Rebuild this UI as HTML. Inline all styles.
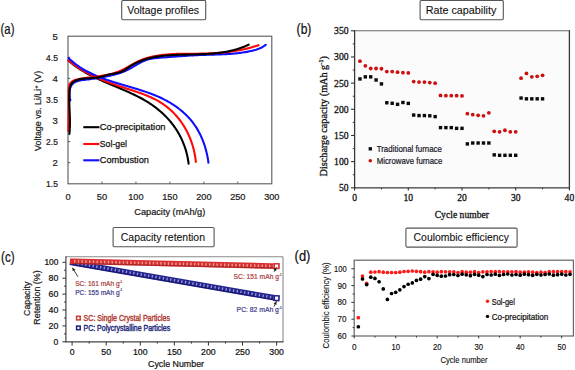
<!DOCTYPE html><html><head><meta charset="utf-8"><style>html,body{margin:0;padding:0;background:#fff;width:575px;height:370px;overflow:hidden}svg{display:block}</style></head><body>
<svg width="575" height="370" viewBox="0 0 575 370">
<rect x="0" y="0" width="575" height="370" fill="#fff"/>
<rect x="121.70" y="0.50" width="84.00" height="19.20" fill="#fff" stroke="#555" stroke-width="1.1" rx="1.2"/>
<text x="127.30" y="13.80" font-family='"Liberation Sans", sans-serif' font-size="10" text-anchor="start" fill="#111" font-weight="normal" textLength="71.70" lengthAdjust="spacingAndGlyphs" stroke="#111" stroke-width="0.1">Voltage profiles</text>
<text x="0.60" y="33.50" font-family='"Liberation Sans", sans-serif' font-size="14.2" text-anchor="start" fill="#111" font-weight="normal" textLength="13.80" lengthAdjust="spacingAndGlyphs" stroke="#111" stroke-width="0.22">(a)</text>
<rect x="68.00" y="36.20" width="203.80" height="147.60" fill="none" stroke="#5a5a5a" stroke-width="1.1"/>
<text x="57.90" y="187.10" font-family='"Liberation Sans", sans-serif' font-size="9.2" text-anchor="end" fill="#1a1a1a" font-weight="normal" textLength="11.80" lengthAdjust="spacingAndGlyphs" stroke="#1a1a1a" stroke-width="0.22">1.5</text>
<line x1="68.00" y1="162.71" x2="70.20" y2="162.71" stroke="#555" stroke-width="1"/>
<text x="57.90" y="166.01" font-family='"Liberation Sans", sans-serif' font-size="9.2" text-anchor="end" fill="#1a1a1a" font-weight="normal" textLength="5.30" lengthAdjust="spacingAndGlyphs" stroke="#1a1a1a" stroke-width="0.22">2</text>
<line x1="68.00" y1="141.63" x2="70.20" y2="141.63" stroke="#555" stroke-width="1"/>
<text x="57.90" y="144.93" font-family='"Liberation Sans", sans-serif' font-size="9.2" text-anchor="end" fill="#1a1a1a" font-weight="normal" textLength="11.80" lengthAdjust="spacingAndGlyphs" stroke="#1a1a1a" stroke-width="0.22">2.5</text>
<line x1="68.00" y1="120.54" x2="70.20" y2="120.54" stroke="#555" stroke-width="1"/>
<text x="57.90" y="123.84" font-family='"Liberation Sans", sans-serif' font-size="9.2" text-anchor="end" fill="#1a1a1a" font-weight="normal" textLength="5.30" lengthAdjust="spacingAndGlyphs" stroke="#1a1a1a" stroke-width="0.22">3</text>
<line x1="68.00" y1="99.46" x2="70.20" y2="99.46" stroke="#555" stroke-width="1"/>
<text x="57.90" y="102.76" font-family='"Liberation Sans", sans-serif' font-size="9.2" text-anchor="end" fill="#1a1a1a" font-weight="normal" textLength="11.80" lengthAdjust="spacingAndGlyphs" stroke="#1a1a1a" stroke-width="0.22">3.5</text>
<line x1="68.00" y1="78.37" x2="70.20" y2="78.37" stroke="#555" stroke-width="1"/>
<text x="57.90" y="81.67" font-family='"Liberation Sans", sans-serif' font-size="9.2" text-anchor="end" fill="#1a1a1a" font-weight="normal" textLength="5.30" lengthAdjust="spacingAndGlyphs" stroke="#1a1a1a" stroke-width="0.22">4</text>
<line x1="68.00" y1="57.29" x2="70.20" y2="57.29" stroke="#555" stroke-width="1"/>
<text x="57.90" y="60.59" font-family='"Liberation Sans", sans-serif' font-size="9.2" text-anchor="end" fill="#1a1a1a" font-weight="normal" textLength="11.80" lengthAdjust="spacingAndGlyphs" stroke="#1a1a1a" stroke-width="0.22">4.5</text>
<text x="57.90" y="39.50" font-family='"Liberation Sans", sans-serif' font-size="9.2" text-anchor="end" fill="#1a1a1a" font-weight="normal" textLength="5.30" lengthAdjust="spacingAndGlyphs" stroke="#1a1a1a" stroke-width="0.22">5</text>
<text x="68.00" y="199.90" font-family='"Liberation Sans", sans-serif' font-size="9.2" text-anchor="middle" fill="#1a1a1a" font-weight="normal" textLength="5.20" lengthAdjust="spacingAndGlyphs" stroke="#1a1a1a" stroke-width="0.22">0</text>
<line x1="101.97" y1="183.80" x2="101.97" y2="181.60" stroke="#555" stroke-width="1"/>
<text x="101.97" y="199.90" font-family='"Liberation Sans", sans-serif' font-size="9.2" text-anchor="middle" fill="#1a1a1a" font-weight="normal" textLength="10.30" lengthAdjust="spacingAndGlyphs" stroke="#1a1a1a" stroke-width="0.22">50</text>
<line x1="135.93" y1="183.80" x2="135.93" y2="181.60" stroke="#555" stroke-width="1"/>
<text x="135.93" y="199.90" font-family='"Liberation Sans", sans-serif' font-size="9.2" text-anchor="middle" fill="#1a1a1a" font-weight="normal" textLength="15.30" lengthAdjust="spacingAndGlyphs" stroke="#1a1a1a" stroke-width="0.22">100</text>
<line x1="169.90" y1="183.80" x2="169.90" y2="181.60" stroke="#555" stroke-width="1"/>
<text x="169.90" y="199.90" font-family='"Liberation Sans", sans-serif' font-size="9.2" text-anchor="middle" fill="#1a1a1a" font-weight="normal" textLength="15.30" lengthAdjust="spacingAndGlyphs" stroke="#1a1a1a" stroke-width="0.22">150</text>
<line x1="203.87" y1="183.80" x2="203.87" y2="181.60" stroke="#555" stroke-width="1"/>
<text x="203.87" y="199.90" font-family='"Liberation Sans", sans-serif' font-size="9.2" text-anchor="middle" fill="#1a1a1a" font-weight="normal" textLength="15.30" lengthAdjust="spacingAndGlyphs" stroke="#1a1a1a" stroke-width="0.22">200</text>
<line x1="237.83" y1="183.80" x2="237.83" y2="181.60" stroke="#555" stroke-width="1"/>
<text x="237.83" y="199.90" font-family='"Liberation Sans", sans-serif' font-size="9.2" text-anchor="middle" fill="#1a1a1a" font-weight="normal" textLength="15.30" lengthAdjust="spacingAndGlyphs" stroke="#1a1a1a" stroke-width="0.22">250</text>
<text x="271.80" y="199.90" font-family='"Liberation Sans", sans-serif' font-size="9.2" text-anchor="middle" fill="#1a1a1a" font-weight="normal" textLength="15.30" lengthAdjust="spacingAndGlyphs" stroke="#1a1a1a" stroke-width="0.22">300</text>
<text x="134.30" y="214.80" font-family='"Liberation Sans", sans-serif' font-size="8.9" text-anchor="start" fill="#1a1a1a" font-weight="normal" textLength="71.00" lengthAdjust="spacingAndGlyphs" stroke="#1a1a1a" stroke-width="0.22">Capacity (mAh/g)</text>
<text transform="translate(40.80,110.90) rotate(-90)" x="0" y="0" font-family='"Liberation Sans", sans-serif' font-size="8.9" text-anchor="middle" fill="#1a1a1a" font-weight="normal" stroke="#1a1a1a" stroke-width="0.22">Voltage vs. Li/Li<tspan font-size="6" dy="-3">+</tspan><tspan dy="3"> (V)</tspan></text>
<path d="M68.53,60.64 L69.31,61.32 L70.10,61.99 L70.89,62.65 L71.69,63.30 L72.50,63.94 L73.32,64.57 L74.14,65.19 L74.97,65.80 L75.80,66.40 L76.65,67.00 L77.50,67.58 L78.35,68.16 L79.21,68.72 L80.08,69.28 L80.95,69.84 L81.83,70.38 L82.72,70.91 L83.61,71.44 L84.50,71.97 L85.40,72.48 L86.31,72.99 L87.22,73.49 L88.13,73.99 L89.05,74.48 L89.97,74.96 L90.90,75.44 L91.83,75.91 L92.76,76.38 L93.70,76.84 L94.64,77.30 L95.59,77.75 L96.53,78.20 L97.48,78.65 L98.44,79.09 L99.39,79.53 L100.35,79.96 L101.31,80.40 L102.27,80.82 L103.24,81.25 L104.20,81.67 L105.17,82.10 L106.14,82.51 L107.11,82.93 L108.09,83.35 L109.06,83.76 L110.03,84.17 L111.01,84.59 L111.98,85.00 L112.96,85.41 L113.93,85.82 L114.91,86.23 L115.88,86.64 L116.86,87.05 L117.84,87.46 L118.81,87.87 L119.78,88.28 L120.76,88.70 L121.73,89.11 L122.70,89.53 L123.67,89.95 L124.63,90.37 L125.60,90.79 L126.56,91.22 L127.53,91.65 L128.49,92.08 L129.44,92.51 L130.40,92.95 L131.35,93.39 L132.30,93.83 L133.25,94.28 L134.19,94.74 L135.13,95.19 L136.07,95.66 L137.00,96.12 L137.93,96.59 L138.85,97.07 L139.77,97.55 L140.69,98.04 L141.60,98.54 L142.51,99.04 L143.41,99.54 L144.31,100.06 L145.20,100.58 L146.09,101.10 L146.97,101.64 L147.85,102.18 L148.72,102.73 L149.59,103.29 L150.45,103.85 L151.30,104.42 L152.15,105.01 L152.99,105.60 L153.82,106.19 L154.65,106.80 L155.47,107.42 L156.28,108.04 L157.09,108.67 L157.89,109.31 L158.68,109.96 L159.47,110.62 L160.24,111.28 L161.01,111.95 L161.77,112.63 L162.53,113.32 L163.28,114.02 L164.01,114.73 L164.74,115.44 L165.47,116.16 L166.18,116.89 L166.88,117.63 L167.58,118.38 L168.27,119.13 L168.95,119.89 L169.62,120.67 L170.28,121.44 L170.93,122.23 L171.57,123.03 L172.20,123.83 L172.83,124.64 L173.44,125.46 L174.04,126.29 L174.64,127.12 L175.22,127.97 L175.80,128.82 L176.36,129.68 L176.91,130.54 L177.46,131.42 L177.99,132.30 L178.51,133.19 L179.02,134.09 L179.52,135.00 L180.01,135.92 L180.48,136.84 L180.95,137.77 L181.41,138.71 L181.85,139.66 L182.28,140.61 L182.70,141.57 L183.11,142.54 L183.50,143.52 L183.89,144.51 L184.26,145.50 L184.62,146.50 L184.97,147.51 L185.30,148.53 L185.62,149.56 L185.93,150.59 L186.23,151.63 L186.51,152.68 L186.78,153.74 L187.03,154.80 L187.28,155.87 L187.51,156.95 L187.72,158.04 L187.93,159.14 L188.11,160.24 L188.29,161.35 L188.45,162.47 L188.59,163.60" fill="none" stroke="#000" stroke-width="2.1" stroke-linecap="round" stroke-linejoin="round"/>
<path d="M68.43,60.27 L69.30,60.99 L70.17,61.69 L71.04,62.38 L71.92,63.06 L72.80,63.73 L73.69,64.38 L74.58,65.03 L75.48,65.67 L76.38,66.29 L77.28,66.91 L78.19,67.51 L79.11,68.11 L80.02,68.69 L80.95,69.27 L81.87,69.83 L82.80,70.39 L83.74,70.94 L84.68,71.48 L85.62,72.01 L86.57,72.53 L87.52,73.04 L88.47,73.55 L89.43,74.05 L90.39,74.54 L91.36,75.02 L92.32,75.49 L93.30,75.96 L94.27,76.42 L95.25,76.88 L96.23,77.33 L97.22,77.77 L98.21,78.20 L99.20,78.63 L100.20,79.05 L101.19,79.47 L102.20,79.88 L103.20,80.29 L104.21,80.69 L105.22,81.09 L106.23,81.48 L107.25,81.87 L108.26,82.26 L109.28,82.63 L110.31,83.01 L111.33,83.38 L112.36,83.75 L113.39,84.12 L114.43,84.48 L115.46,84.84 L116.50,85.19 L117.54,85.54 L118.58,85.90 L119.63,86.24 L120.67,86.59 L121.72,86.93 L122.77,87.28 L123.82,87.62 L124.88,87.96 L125.93,88.30 L126.99,88.64 L128.04,88.98 L129.10,89.32 L130.15,89.66 L131.21,90.01 L132.26,90.35 L133.32,90.70 L134.37,91.05 L135.42,91.40 L136.47,91.76 L137.52,92.12 L138.56,92.48 L139.60,92.85 L140.64,93.22 L141.67,93.60 L142.70,93.98 L143.73,94.37 L144.75,94.77 L145.77,95.17 L146.78,95.58 L147.79,96.00 L148.79,96.43 L149.79,96.86 L150.78,97.30 L151.77,97.76 L152.74,98.22 L153.71,98.69 L154.68,99.17 L155.63,99.66 L156.58,100.17 L157.52,100.68 L158.45,101.21 L159.37,101.75 L160.29,102.30 L161.19,102.86 L162.09,103.44 L162.97,104.03 L163.85,104.63 L164.71,105.25 L165.57,105.88 L166.41,106.52 L167.25,107.18 L168.07,107.85 L168.88,108.53 L169.69,109.22 L170.48,109.93 L171.26,110.64 L172.04,111.37 L172.80,112.11 L173.55,112.86 L174.29,113.63 L175.02,114.40 L175.74,115.19 L176.45,115.98 L177.14,116.79 L177.83,117.61 L178.50,118.44 L179.16,119.27 L179.82,120.12 L180.46,120.98 L181.08,121.85 L181.70,122.73 L182.31,123.62 L182.90,124.51 L183.48,125.42 L184.05,126.34 L184.61,127.26 L185.16,128.19 L185.69,129.14 L186.21,130.09 L186.72,131.05 L187.22,132.01 L187.70,132.99 L188.17,133.97 L188.63,134.97 L189.08,135.97 L189.52,136.97 L189.94,137.99 L190.35,139.01 L190.74,140.04 L191.13,141.07 L191.50,142.12 L191.85,143.17 L192.20,144.22 L192.53,145.28 L192.84,146.35 L193.15,147.43 L193.44,148.51 L193.72,149.59 L193.98,150.69 L194.23,151.78 L194.46,152.89 L194.69,153.99 L194.90,155.11 L195.09,156.23 L195.27,157.35 L195.44,158.48 L195.59,159.61 L195.73,160.75 L195.85,161.89" fill="none" stroke="#ff0a0a" stroke-width="2.1" stroke-linecap="round" stroke-linejoin="round"/>
<path d="M68.61,58.10 L69.49,58.94 L70.37,59.76 L71.27,60.56 L72.17,61.34 L73.08,62.10 L74.00,62.85 L74.93,63.58 L75.86,64.30 L76.81,65.00 L77.76,65.68 L78.72,66.35 L79.68,67.01 L80.66,67.64 L81.64,68.27 L82.63,68.88 L83.62,69.48 L84.63,70.06 L85.63,70.63 L86.65,71.19 L87.67,71.74 L88.70,72.27 L89.73,72.80 L90.77,73.31 L91.81,73.81 L92.86,74.30 L93.92,74.78 L94.98,75.25 L96.04,75.71 L97.11,76.16 L98.18,76.61 L99.26,77.04 L100.34,77.47 L101.43,77.88 L102.52,78.29 L103.61,78.70 L104.71,79.09 L105.81,79.48 L106.91,79.87 L108.02,80.25 L109.13,80.62 L110.24,80.98 L111.35,81.35 L112.47,81.70 L113.59,82.06 L114.71,82.41 L115.83,82.75 L116.95,83.10 L118.08,83.44 L119.20,83.77 L120.33,84.11 L121.46,84.44 L122.59,84.78 L123.72,85.11 L124.85,85.44 L125.98,85.77 L127.11,86.09 L128.24,86.42 L129.37,86.75 L130.50,87.09 L131.63,87.42 L132.76,87.75 L133.88,88.09 L135.01,88.42 L136.14,88.76 L137.26,89.11 L138.38,89.45 L139.50,89.80 L140.62,90.16 L141.74,90.51 L142.85,90.88 L143.96,91.24 L145.07,91.62 L146.18,91.99 L147.28,92.38 L148.38,92.77 L149.48,93.16 L150.57,93.57 L151.66,93.98 L152.74,94.40 L153.83,94.82 L154.90,95.26 L155.98,95.70 L157.05,96.15 L158.11,96.61 L159.17,97.08 L160.22,97.56 L161.27,98.05 L162.32,98.55 L163.35,99.07 L164.39,99.59 L165.41,100.12 L166.43,100.67 L167.45,101.22 L168.45,101.79 L169.45,102.37 L170.44,102.95 L171.43,103.56 L172.40,104.17 L173.37,104.79 L174.33,105.42 L175.28,106.07 L176.22,106.73 L177.15,107.40 L178.08,108.08 L178.99,108.77 L179.89,109.48 L180.79,110.20 L181.67,110.92 L182.54,111.67 L183.40,112.42 L184.25,113.19 L185.09,113.96 L185.91,114.75 L186.72,115.56 L187.52,116.37 L188.31,117.20 L189.09,118.04 L189.85,118.90 L190.60,119.76 L191.33,120.64 L192.05,121.53 L192.76,122.44 L193.45,123.36 L194.12,124.29 L194.78,125.23 L195.43,126.19 L196.06,127.16 L196.68,128.14 L197.28,129.14 L197.87,130.14 L198.44,131.16 L198.99,132.19 L199.54,133.22 L200.06,134.27 L200.58,135.33 L201.07,136.39 L201.56,137.47 L202.02,138.55 L202.48,139.65 L202.91,140.75 L203.34,141.86 L203.75,142.97 L204.14,144.10 L204.52,145.23 L204.88,146.36 L205.23,147.51 L205.57,148.65 L205.89,149.81 L206.20,150.97 L206.49,152.13 L206.76,153.30 L207.03,154.47 L207.27,155.65 L207.51,156.83 L207.72,158.01 L207.93,159.19 L208.12,160.38 L208.29,161.57 L208.45,162.76" fill="none" stroke="#1010ff" stroke-width="2.1" stroke-linecap="round" stroke-linejoin="round"/>
<path d="M70.31,100.31 L70.00,98.71 L69.76,97.13 L69.60,95.57 L69.52,94.04 L69.53,92.55 L69.62,91.12 L69.81,89.75 L70.10,88.45 L70.49,87.23 L70.99,86.11 L71.60,85.09 L72.32,84.18 L73.16,83.39 L74.10,82.70 L75.14,82.12 L76.26,81.61 L77.46,81.19 L78.72,80.83 L80.03,80.53 L81.39,80.27 L82.78,80.05 L84.19,79.86 L85.61,79.68 L87.04,79.51 L88.46,79.34 L89.86,79.16 L91.26,78.98 L92.66,78.79 L94.04,78.59 L95.42,78.39 L96.78,78.18 L98.15,77.96 L99.50,77.73 L100.85,77.50 L102.20,77.26 L103.54,77.01 L104.88,76.75 L106.21,76.48 L107.54,76.20 L108.87,75.91 L110.20,75.62 L111.52,75.31 L112.85,74.99 L114.17,74.65 L115.48,74.31 L116.80,73.94 L118.10,73.55 L119.40,73.15 L120.69,72.72 L121.97,72.26 L123.23,71.78 L124.49,71.26 L125.74,70.72 L126.97,70.16 L128.19,69.56 L129.40,68.93 L130.60,68.28 L131.79,67.61 L132.97,66.92 L134.15,66.22 L135.33,65.52 L136.51,64.82 L137.69,64.14 L138.88,63.46 L140.08,62.81 L141.29,62.19 L142.50,61.59 L143.73,61.03 L144.98,60.51 L146.23,60.03 L147.51,59.61 L148.80,59.24 L150.11,58.93 L151.44,58.67 L152.78,58.45 L154.13,58.27 L155.49,58.11 L156.86,57.98 L158.23,57.87 L159.61,57.76 L160.98,57.66 L162.35,57.56 L163.73,57.45 L165.09,57.35 L166.46,57.24 L167.83,57.14 L169.19,57.03 L170.56,56.92 L171.92,56.82 L173.28,56.71 L174.64,56.61 L176.00,56.51 L177.36,56.41 L178.72,56.30 L180.08,56.21 L181.44,56.11 L182.80,56.01 L184.15,55.92 L185.51,55.83 L186.87,55.74 L188.23,55.65 L189.59,55.57 L190.95,55.48 L192.31,55.41 L193.67,55.33 L195.03,55.26 L196.39,55.19 L197.75,55.13 L199.11,55.07 L200.48,55.01 L201.84,54.96 L203.21,54.91 L204.58,54.87 L205.94,54.83 L207.31,54.79 L208.68,54.75 L210.05,54.71 L211.42,54.67 L212.79,54.63 L214.16,54.59 L215.53,54.55 L216.90,54.51 L218.27,54.46 L219.64,54.41 L221.01,54.36 L222.38,54.30 L223.74,54.24 L225.11,54.17 L226.47,54.09 L227.84,54.01 L229.20,53.92 L230.57,53.83 L231.93,53.72 L233.29,53.61 L234.64,53.48 L236.00,53.35 L237.35,53.21 L238.71,53.05 L240.06,52.88 L241.41,52.70 L242.75,52.51 L244.10,52.31 L245.44,52.09 L246.78,51.85 L248.11,51.60 L249.45,51.33 L250.78,51.05 L252.10,50.75 L253.43,50.43 L254.74,50.09 L256.05,49.72 L257.35,49.31 L258.63,48.85 L259.88,48.34 L261.12,47.78 L262.32,47.14 L263.50,46.43 L264.64,45.64 L265.74,44.76" fill="none" stroke="#1010ff" stroke-width="2.1" stroke-linecap="round" stroke-linejoin="round"/>
<path d="M68.40,131.00 L68.41,129.35 L68.42,127.73 L68.44,126.14 L68.45,124.57 L68.47,123.03 L68.49,121.50 L68.51,119.99 L68.53,118.50 L68.55,117.01 L68.57,115.53 L68.59,114.06 L68.61,112.60 L68.62,111.13 L68.64,109.66 L68.66,108.19 L68.67,106.72 L68.69,105.23 L68.70,103.73 L68.71,102.22 L68.71,100.69 L68.72,99.15 L68.72,97.58 L68.72,95.99 L68.72,94.37 L68.71,92.72 L68.70,91.05 L68.73,89.38 L68.83,87.75 L69.06,86.22 L69.43,84.80 L70.01,83.56 L70.82,82.51 L71.83,81.63 L73.00,80.92 L74.31,80.33 L75.70,79.84 L77.14,79.42 L78.62,79.07 L80.12,78.76 L81.64,78.49 L83.17,78.25 L84.71,78.04 L86.27,77.84 L87.82,77.66 L89.37,77.48 L90.92,77.29 L92.47,77.11 L94.01,76.93 L95.55,76.73 L97.09,76.53 L98.62,76.33 L100.14,76.11 L101.66,75.87 L103.18,75.62 L104.69,75.36 L106.19,75.07 L107.68,74.76 L109.16,74.43 L110.64,74.07 L112.10,73.68 L113.56,73.26 L115.00,72.82 L116.43,72.33 L117.86,71.81 L119.26,71.25 L120.66,70.66 L122.04,70.02 L123.41,69.33 L124.77,68.62 L126.13,67.88 L127.47,67.12 L128.81,66.35 L130.15,65.58 L131.49,64.81 L132.84,64.06 L134.19,63.32 L135.54,62.61 L136.91,61.93 L138.28,61.28 L139.67,60.68 L141.06,60.10 L142.47,59.56 L143.88,59.05 L145.30,58.57 L146.73,58.12 L148.17,57.70 L149.62,57.31 L151.07,56.95 L152.53,56.61 L154.00,56.29 L155.47,56.00 L156.95,55.74 L158.44,55.49 L159.93,55.27 L161.43,55.07 L162.93,54.88 L164.44,54.71 L165.95,54.57 L167.47,54.43 L168.99,54.32 L170.52,54.21 L172.05,54.12 L173.58,54.04 L175.11,53.98 L176.65,53.92 L178.19,53.88 L179.73,53.84 L181.27,53.81 L182.82,53.78 L184.36,53.76 L185.91,53.75 L187.46,53.74 L189.00,53.73 L190.55,53.72 L192.10,53.72 L193.64,53.71 L195.19,53.70 L196.73,53.69 L198.28,53.68 L199.82,53.66 L201.36,53.63 L202.89,53.61 L204.43,53.57 L205.96,53.53 L207.49,53.48 L209.02,53.42 L210.55,53.36 L212.07,53.29 L213.60,53.21 L215.12,53.12 L216.64,53.02 L218.15,52.92 L219.67,52.80 L221.18,52.67 L222.69,52.54 L224.20,52.39 L225.71,52.23 L227.22,52.06 L228.72,51.87 L230.22,51.68 L231.72,51.47 L233.22,51.25 L234.72,51.02 L236.22,50.77 L237.71,50.51 L239.20,50.23 L240.69,49.94 L242.18,49.63 L243.67,49.31 L245.16,48.97 L246.64,48.62 L248.12,48.25 L249.61,47.86 L251.09,47.46 L252.56,47.03 L254.04,46.59 L255.52,46.13 L256.99,45.65 L258.46,45.16" fill="none" stroke="#ff0a0a" stroke-width="2.1" stroke-linecap="round" stroke-linejoin="round"/>
<path d="M69.39,133.99 L69.53,132.49 L69.65,130.99 L69.74,129.49 L69.81,128.01 L69.86,126.53 L69.89,125.05 L69.91,123.58 L69.91,122.11 L69.90,120.64 L69.87,119.18 L69.84,117.72 L69.80,116.26 L69.75,114.80 L69.69,113.33 L69.64,111.87 L69.58,110.40 L69.52,108.93 L69.47,107.46 L69.42,105.98 L69.37,104.49 L69.34,103.00 L69.31,101.51 L69.29,100.00 L69.29,98.49 L69.29,96.97 L69.32,95.43 L69.36,93.89 L69.42,92.34 L69.51,90.78 L69.65,89.24 L69.88,87.75 L70.22,86.35 L70.70,85.06 L71.35,83.92 L72.18,82.93 L73.15,82.07 L74.24,81.34 L75.44,80.71 L76.71,80.19 L78.04,79.75 L79.43,79.38 L80.85,79.08 L82.32,78.84 L83.81,78.64 L85.34,78.48 L86.88,78.35 L88.43,78.23 L90.00,78.13 L91.56,78.02 L93.12,77.90 L94.66,77.76 L96.19,77.60 L97.70,77.39 L99.17,77.13 L100.62,76.83 L102.04,76.48 L103.44,76.11 L104.83,75.72 L106.21,75.33 L107.60,74.94 L109.00,74.57 L110.41,74.23 L111.85,73.94 L113.31,73.67 L114.77,73.41 L116.24,73.13 L117.70,72.82 L119.13,72.45 L120.55,72.00 L121.92,71.45 L123.25,70.80 L124.56,70.05 L125.83,69.24 L127.09,68.39 L128.35,67.53 L129.60,66.68 L130.87,65.86 L132.15,65.08 L133.44,64.34 L134.74,63.64 L136.06,62.97 L137.38,62.34 L138.72,61.75 L140.06,61.18 L141.42,60.65 L142.78,60.15 L144.15,59.68 L145.54,59.24 L146.93,58.82 L148.33,58.44 L149.73,58.07 L151.15,57.74 L152.57,57.43 L154.00,57.14 L155.43,56.87 L156.87,56.63 L158.32,56.40 L159.77,56.20 L161.23,56.01 L162.69,55.84 L164.15,55.68 L165.62,55.54 L167.09,55.42 L168.57,55.30 L170.05,55.20 L171.53,55.11 L173.01,55.03 L174.50,54.96 L175.99,54.90 L177.48,54.84 L178.97,54.79 L180.46,54.75 L181.95,54.71 L183.44,54.67 L184.93,54.63 L186.42,54.60 L187.91,54.57 L189.40,54.54 L190.89,54.51 L192.38,54.48 L193.87,54.44 L195.36,54.41 L196.84,54.37 L198.33,54.32 L199.82,54.28 L201.30,54.22 L202.78,54.16 L204.26,54.10 L205.74,54.02 L207.22,53.94 L208.70,53.85 L210.17,53.75 L211.64,53.64 L213.11,53.52 L214.58,53.38 L216.05,53.23 L217.51,53.07 L218.97,52.90 L220.42,52.71 L221.88,52.50 L223.33,52.28 L224.78,52.04 L226.22,51.78 L227.66,51.50 L229.10,51.20 L230.53,50.89 L231.96,50.55 L233.38,50.19 L234.80,49.81 L236.22,49.40 L237.63,48.97 L239.04,48.52 L240.44,48.04 L241.84,47.53 L243.23,47.00 L244.62,46.44 L246.00,45.85 L247.38,45.23 L248.75,44.58" fill="none" stroke="#000" stroke-width="2.1" stroke-linecap="round" stroke-linejoin="round"/>
<line x1="83.30" y1="127.20" x2="99.40" y2="127.20" stroke="#000" stroke-width="2.1"/>
<text x="99.80" y="130.30" font-family='"Liberation Sans", sans-serif' font-size="9.9" text-anchor="start" fill="#111" font-weight="normal" textLength="65.80" lengthAdjust="spacingAndGlyphs" stroke="#111" stroke-width="0.25">Co-precipitation</text>
<line x1="83.30" y1="144.00" x2="99.40" y2="144.00" stroke="#ff0a0a" stroke-width="2.1"/>
<text x="99.80" y="147.10" font-family='"Liberation Sans", sans-serif' font-size="9.9" text-anchor="start" fill="#111" font-weight="normal" textLength="27.20" lengthAdjust="spacingAndGlyphs" stroke="#111" stroke-width="0.25">Sol-gel</text>
<line x1="83.30" y1="160.30" x2="99.40" y2="160.30" stroke="#1010ff" stroke-width="2.1"/>
<text x="99.80" y="163.40" font-family='"Liberation Sans", sans-serif' font-size="9.9" text-anchor="start" fill="#111" font-weight="normal" textLength="49.10" lengthAdjust="spacingAndGlyphs" stroke="#111" stroke-width="0.25">Combustion</text>
<rect x="420.10" y="0.50" width="83.20" height="19.20" fill="#fff" stroke="#555" stroke-width="1.1" rx="1.2"/>
<text x="425.70" y="13.80" font-family='"Liberation Sans", sans-serif' font-size="10" text-anchor="start" fill="#111" font-weight="normal" textLength="70.70" lengthAdjust="spacingAndGlyphs" stroke="#111" stroke-width="0.1">Rate capability</text>
<text x="296.60" y="33.70" font-family='"Liberation Sans", sans-serif' font-size="14.2" text-anchor="start" fill="#111" font-weight="normal" textLength="14.80" lengthAdjust="spacingAndGlyphs" stroke="#111" stroke-width="0.22">(b)</text>
<rect x="354.60" y="30.80" width="214.80" height="157.00" fill="#fbfbfb" stroke="none"/>
<line x1="354.10" y1="30.80" x2="570.00" y2="30.80" stroke="#6a6a6a" stroke-width="1.1"/>
<line x1="569.40" y1="30.30" x2="569.40" y2="188.40" stroke="#3a3a3a" stroke-width="1.3"/>
<line x1="354.60" y1="30.30" x2="354.60" y2="188.40" stroke="#3a3a3a" stroke-width="1.3"/>
<line x1="354.00" y1="187.80" x2="570.00" y2="187.80" stroke="#3a3a3a" stroke-width="1.3"/>
<line x1="351.00" y1="187.80" x2="354.60" y2="187.80" stroke="#333" stroke-width="1.1"/>
<line x1="352.80" y1="174.72" x2="354.60" y2="174.72" stroke="#333" stroke-width="1.0"/>
<text x="348.60" y="191.20" font-family='"Liberation Serif", serif' font-size="10.4" text-anchor="end" fill="#111" font-weight="normal" textLength="9.60" lengthAdjust="spacingAndGlyphs" stroke="#111" stroke-width="0.3">50</text>
<line x1="351.00" y1="161.63" x2="354.60" y2="161.63" stroke="#333" stroke-width="1.1"/>
<line x1="352.80" y1="148.55" x2="354.60" y2="148.55" stroke="#333" stroke-width="1.0"/>
<text x="348.60" y="165.03" font-family='"Liberation Serif", serif' font-size="10.4" text-anchor="end" fill="#111" font-weight="normal" textLength="14.50" lengthAdjust="spacingAndGlyphs" stroke="#111" stroke-width="0.3">100</text>
<line x1="351.00" y1="135.47" x2="354.60" y2="135.47" stroke="#333" stroke-width="1.1"/>
<line x1="352.80" y1="122.38" x2="354.60" y2="122.38" stroke="#333" stroke-width="1.0"/>
<text x="348.60" y="138.87" font-family='"Liberation Serif", serif' font-size="10.4" text-anchor="end" fill="#111" font-weight="normal" textLength="14.50" lengthAdjust="spacingAndGlyphs" stroke="#111" stroke-width="0.3">150</text>
<line x1="351.00" y1="109.30" x2="354.60" y2="109.30" stroke="#333" stroke-width="1.1"/>
<line x1="352.80" y1="96.22" x2="354.60" y2="96.22" stroke="#333" stroke-width="1.0"/>
<text x="348.60" y="112.70" font-family='"Liberation Serif", serif' font-size="10.4" text-anchor="end" fill="#111" font-weight="normal" textLength="14.50" lengthAdjust="spacingAndGlyphs" stroke="#111" stroke-width="0.3">200</text>
<line x1="351.00" y1="83.13" x2="354.60" y2="83.13" stroke="#333" stroke-width="1.1"/>
<line x1="352.80" y1="70.05" x2="354.60" y2="70.05" stroke="#333" stroke-width="1.0"/>
<text x="348.60" y="86.53" font-family='"Liberation Serif", serif' font-size="10.4" text-anchor="end" fill="#111" font-weight="normal" textLength="14.50" lengthAdjust="spacingAndGlyphs" stroke="#111" stroke-width="0.3">250</text>
<line x1="351.00" y1="56.97" x2="354.60" y2="56.97" stroke="#333" stroke-width="1.1"/>
<line x1="352.80" y1="43.88" x2="354.60" y2="43.88" stroke="#333" stroke-width="1.0"/>
<text x="348.60" y="60.37" font-family='"Liberation Serif", serif' font-size="10.4" text-anchor="end" fill="#111" font-weight="normal" textLength="14.50" lengthAdjust="spacingAndGlyphs" stroke="#111" stroke-width="0.3">300</text>
<line x1="351.00" y1="30.80" x2="354.60" y2="30.80" stroke="#333" stroke-width="1.1"/>
<text x="348.60" y="34.20" font-family='"Liberation Serif", serif' font-size="10.4" text-anchor="end" fill="#111" font-weight="normal" textLength="14.50" lengthAdjust="spacingAndGlyphs" stroke="#111" stroke-width="0.3">350</text>
<line x1="354.60" y1="187.80" x2="354.60" y2="190.60" stroke="#333" stroke-width="1.1"/>
<line x1="381.45" y1="187.80" x2="381.45" y2="189.40" stroke="#333" stroke-width="1.0"/>
<text x="354.60" y="201.00" font-family='"Liberation Serif", serif' font-size="10.4" text-anchor="middle" fill="#111" font-weight="normal" textLength="4.80" lengthAdjust="spacingAndGlyphs" stroke="#111" stroke-width="0.3">0</text>
<line x1="408.30" y1="187.80" x2="408.30" y2="190.60" stroke="#333" stroke-width="1.1"/>
<line x1="435.15" y1="187.80" x2="435.15" y2="189.40" stroke="#333" stroke-width="1.0"/>
<text x="408.30" y="201.00" font-family='"Liberation Serif", serif' font-size="10.4" text-anchor="middle" fill="#111" font-weight="normal" textLength="9.60" lengthAdjust="spacingAndGlyphs" stroke="#111" stroke-width="0.3">10</text>
<line x1="462.00" y1="187.80" x2="462.00" y2="190.60" stroke="#333" stroke-width="1.1"/>
<line x1="488.85" y1="187.80" x2="488.85" y2="189.40" stroke="#333" stroke-width="1.0"/>
<text x="462.00" y="201.00" font-family='"Liberation Serif", serif' font-size="10.4" text-anchor="middle" fill="#111" font-weight="normal" textLength="9.60" lengthAdjust="spacingAndGlyphs" stroke="#111" stroke-width="0.3">20</text>
<line x1="515.70" y1="187.80" x2="515.70" y2="190.60" stroke="#333" stroke-width="1.1"/>
<line x1="542.55" y1="187.80" x2="542.55" y2="189.40" stroke="#333" stroke-width="1.0"/>
<text x="515.70" y="201.00" font-family='"Liberation Serif", serif' font-size="10.4" text-anchor="middle" fill="#111" font-weight="normal" textLength="9.60" lengthAdjust="spacingAndGlyphs" stroke="#111" stroke-width="0.3">30</text>
<line x1="569.40" y1="187.80" x2="569.40" y2="190.60" stroke="#333" stroke-width="1.1"/>
<text x="569.40" y="201.00" font-family='"Liberation Serif", serif' font-size="10.4" text-anchor="middle" fill="#111" font-weight="normal" textLength="9.60" lengthAdjust="spacingAndGlyphs" stroke="#111" stroke-width="0.3">40</text>
<text x="434.70" y="217.80" font-family='"Liberation Serif", serif' font-size="10.4" text-anchor="start" fill="#111" font-weight="normal" textLength="54.30" lengthAdjust="spacingAndGlyphs" stroke="#111" stroke-width="0.3">Cycle number</text>
<text transform="translate(327.40,116.20) rotate(-90)" x="0" y="0" font-family='"Liberation Serif", serif' font-size="10.2" text-anchor="middle" fill="#111" font-weight="normal" stroke="#111" stroke-width="0.3">Discharge capacity (mAh g<tspan font-size="6.5" dy="-4">-1</tspan><tspan dy="4">)</tspan></text>
<rect x="358.27" y="77.25" width="3.4" height="3.4" fill="#0a0a0a"/>
<rect x="363.64" y="75.15" width="3.4" height="3.4" fill="#0a0a0a"/>
<rect x="369.01" y="75.15" width="3.4" height="3.4" fill="#0a0a0a"/>
<rect x="374.38" y="78.29" width="3.4" height="3.4" fill="#0a0a0a"/>
<rect x="379.75" y="82.22" width="3.4" height="3.4" fill="#0a0a0a"/>
<rect x="385.12" y="101.06" width="3.4" height="3.4" fill="#0a0a0a"/>
<rect x="390.49" y="101.58" width="3.4" height="3.4" fill="#0a0a0a"/>
<rect x="395.86" y="102.63" width="3.4" height="3.4" fill="#0a0a0a"/>
<rect x="401.23" y="100.80" width="3.4" height="3.4" fill="#0a0a0a"/>
<rect x="406.60" y="101.69" width="3.4" height="3.4" fill="#0a0a0a"/>
<rect x="411.97" y="113.36" width="3.4" height="3.4" fill="#0a0a0a"/>
<rect x="417.34" y="113.88" width="3.4" height="3.4" fill="#0a0a0a"/>
<rect x="422.71" y="113.88" width="3.4" height="3.4" fill="#0a0a0a"/>
<rect x="428.08" y="114.09" width="3.4" height="3.4" fill="#0a0a0a"/>
<rect x="433.45" y="114.93" width="3.4" height="3.4" fill="#0a0a0a"/>
<rect x="438.82" y="125.92" width="3.4" height="3.4" fill="#0a0a0a"/>
<rect x="444.19" y="125.92" width="3.4" height="3.4" fill="#0a0a0a"/>
<rect x="449.56" y="125.92" width="3.4" height="3.4" fill="#0a0a0a"/>
<rect x="454.93" y="126.65" width="3.4" height="3.4" fill="#0a0a0a"/>
<rect x="460.30" y="126.65" width="3.4" height="3.4" fill="#0a0a0a"/>
<rect x="465.67" y="142.19" width="3.4" height="3.4" fill="#0a0a0a"/>
<rect x="471.04" y="141.30" width="3.4" height="3.4" fill="#0a0a0a"/>
<rect x="476.41" y="141.30" width="3.4" height="3.4" fill="#0a0a0a"/>
<rect x="481.78" y="141.30" width="3.4" height="3.4" fill="#0a0a0a"/>
<rect x="487.15" y="141.30" width="3.4" height="3.4" fill="#0a0a0a"/>
<rect x="492.52" y="153.18" width="3.4" height="3.4" fill="#0a0a0a"/>
<rect x="497.89" y="153.60" width="3.4" height="3.4" fill="#0a0a0a"/>
<rect x="503.26" y="153.60" width="3.4" height="3.4" fill="#0a0a0a"/>
<rect x="508.63" y="153.60" width="3.4" height="3.4" fill="#0a0a0a"/>
<rect x="514.00" y="153.60" width="3.4" height="3.4" fill="#0a0a0a"/>
<rect x="519.37" y="96.35" width="3.4" height="3.4" fill="#0a0a0a"/>
<rect x="524.74" y="97.13" width="3.4" height="3.4" fill="#0a0a0a"/>
<rect x="530.11" y="97.13" width="3.4" height="3.4" fill="#0a0a0a"/>
<rect x="535.48" y="97.13" width="3.4" height="3.4" fill="#0a0a0a"/>
<rect x="540.85" y="97.13" width="3.4" height="3.4" fill="#0a0a0a"/>
<circle cx="359.97" cy="61.15" r="1.9" fill="#cc1010"/>
<circle cx="365.34" cy="65.86" r="1.9" fill="#cc1010"/>
<circle cx="370.71" cy="68.48" r="1.9" fill="#cc1010"/>
<circle cx="376.08" cy="68.48" r="1.9" fill="#cc1010"/>
<circle cx="381.45" cy="68.74" r="1.9" fill="#cc1010"/>
<circle cx="386.82" cy="71.62" r="1.9" fill="#cc1010"/>
<circle cx="392.19" cy="71.62" r="1.9" fill="#cc1010"/>
<circle cx="397.56" cy="72.14" r="1.9" fill="#cc1010"/>
<circle cx="402.93" cy="72.67" r="1.9" fill="#cc1010"/>
<circle cx="408.30" cy="72.93" r="1.9" fill="#cc1010"/>
<circle cx="413.67" cy="81.56" r="1.9" fill="#cc1010"/>
<circle cx="419.04" cy="82.09" r="1.9" fill="#cc1010"/>
<circle cx="424.41" cy="82.09" r="1.9" fill="#cc1010"/>
<circle cx="429.78" cy="82.61" r="1.9" fill="#cc1010"/>
<circle cx="435.15" cy="83.13" r="1.9" fill="#cc1010"/>
<circle cx="440.52" cy="95.43" r="1.9" fill="#cc1010"/>
<circle cx="445.89" cy="95.69" r="1.9" fill="#cc1010"/>
<circle cx="451.26" cy="95.69" r="1.9" fill="#cc1010"/>
<circle cx="456.63" cy="95.69" r="1.9" fill="#cc1010"/>
<circle cx="462.00" cy="95.96" r="1.9" fill="#cc1010"/>
<circle cx="467.37" cy="113.70" r="1.9" fill="#cc1010"/>
<circle cx="472.74" cy="114.69" r="1.9" fill="#cc1010"/>
<circle cx="478.11" cy="115.37" r="1.9" fill="#cc1010"/>
<circle cx="483.48" cy="115.79" r="1.9" fill="#cc1010"/>
<circle cx="488.85" cy="112.81" r="1.9" fill="#cc1010"/>
<circle cx="494.22" cy="131.28" r="1.9" fill="#cc1010"/>
<circle cx="499.59" cy="131.80" r="1.9" fill="#cc1010"/>
<circle cx="504.96" cy="130.23" r="1.9" fill="#cc1010"/>
<circle cx="510.33" cy="131.80" r="1.9" fill="#cc1010"/>
<circle cx="515.70" cy="131.80" r="1.9" fill="#cc1010"/>
<circle cx="521.07" cy="78.16" r="1.9" fill="#cc1010"/>
<circle cx="526.44" cy="73.45" r="1.9" fill="#cc1010"/>
<circle cx="531.81" cy="76.85" r="1.9" fill="#cc1010"/>
<circle cx="537.18" cy="76.33" r="1.9" fill="#cc1010"/>
<circle cx="542.55" cy="75.28" r="1.9" fill="#cc1010"/>
<rect x="368.6" y="147.1" width="3.4" height="3.4" fill="#111"/>
<circle cx="370.3" cy="160.7" r="1.8" fill="#c81010"/>
<text x="376.70" y="151.90" font-family='"Liberation Sans", sans-serif' font-size="8.9" text-anchor="start" fill="#1a1a2a" font-weight="normal" textLength="65.30" lengthAdjust="spacingAndGlyphs" stroke="#1a1a2a" stroke-width="0.22">Traditional furnace</text>
<text x="376.70" y="163.80" font-family='"Liberation Sans", sans-serif' font-size="8.9" text-anchor="start" fill="#1a1a2a" font-weight="normal" textLength="65.60" lengthAdjust="spacingAndGlyphs" stroke="#1a1a2a" stroke-width="0.22">Microwave furnace</text>
<rect x="113.10" y="227.50" width="101.00" height="19.20" fill="#fff" stroke="#555" stroke-width="1.1" rx="1.2"/>
<text x="120.80" y="240.60" font-family='"Liberation Sans", sans-serif' font-size="10" text-anchor="start" fill="#111" font-weight="normal" textLength="84.20" lengthAdjust="spacingAndGlyphs" stroke="#111" stroke-width="0.1">Capacity retention</text>
<text x="1.00" y="261.70" font-family='"Liberation Sans", sans-serif' font-size="14.2" text-anchor="start" fill="#111" font-weight="normal" textLength="13.60" lengthAdjust="spacingAndGlyphs" stroke="#111" stroke-width="0.22">(c)</text>
<line x1="65.90" y1="256.80" x2="283.00" y2="256.80" stroke="#8a8a8a" stroke-width="1.1"/>
<line x1="283.00" y1="256.80" x2="283.00" y2="341.80" stroke="#8a8a8a" stroke-width="1.1"/>
<line x1="65.90" y1="256.30" x2="65.90" y2="342.30" stroke="#444" stroke-width="1.2"/>
<line x1="65.40" y1="341.80" x2="283.50" y2="341.80" stroke="#444" stroke-width="1.2"/>
<line x1="62.40" y1="341.80" x2="65.90" y2="341.80" stroke="#333" stroke-width="1.0"/>
<line x1="64.10" y1="333.85" x2="65.90" y2="333.85" stroke="#333" stroke-width="1.0"/>
<text x="58.40" y="344.80" font-family='"Liberation Sans", sans-serif' font-size="8.6" text-anchor="end" fill="#111" font-weight="normal" textLength="4.80" lengthAdjust="spacingAndGlyphs" stroke="#111" stroke-width="0.22">0</text>
<line x1="62.40" y1="325.90" x2="65.90" y2="325.90" stroke="#333" stroke-width="1.0"/>
<line x1="64.10" y1="317.95" x2="65.90" y2="317.95" stroke="#333" stroke-width="1.0"/>
<text x="58.40" y="328.90" font-family='"Liberation Sans", sans-serif' font-size="8.6" text-anchor="end" fill="#111" font-weight="normal" textLength="9.80" lengthAdjust="spacingAndGlyphs" stroke="#111" stroke-width="0.22">20</text>
<line x1="62.40" y1="310.00" x2="65.90" y2="310.00" stroke="#333" stroke-width="1.0"/>
<line x1="64.10" y1="302.05" x2="65.90" y2="302.05" stroke="#333" stroke-width="1.0"/>
<text x="58.40" y="313.00" font-family='"Liberation Sans", sans-serif' font-size="8.6" text-anchor="end" fill="#111" font-weight="normal" textLength="9.80" lengthAdjust="spacingAndGlyphs" stroke="#111" stroke-width="0.22">40</text>
<line x1="62.40" y1="294.10" x2="65.90" y2="294.10" stroke="#333" stroke-width="1.0"/>
<line x1="64.10" y1="286.15" x2="65.90" y2="286.15" stroke="#333" stroke-width="1.0"/>
<text x="58.40" y="297.10" font-family='"Liberation Sans", sans-serif' font-size="8.6" text-anchor="end" fill="#111" font-weight="normal" textLength="9.80" lengthAdjust="spacingAndGlyphs" stroke="#111" stroke-width="0.22">60</text>
<line x1="62.40" y1="278.20" x2="65.90" y2="278.20" stroke="#333" stroke-width="1.0"/>
<line x1="64.10" y1="270.25" x2="65.90" y2="270.25" stroke="#333" stroke-width="1.0"/>
<text x="58.40" y="281.20" font-family='"Liberation Sans", sans-serif' font-size="8.6" text-anchor="end" fill="#111" font-weight="normal" textLength="9.80" lengthAdjust="spacingAndGlyphs" stroke="#111" stroke-width="0.22">80</text>
<line x1="62.40" y1="262.30" x2="65.90" y2="262.30" stroke="#333" stroke-width="1.0"/>
<text x="58.40" y="265.30" font-family='"Liberation Sans", sans-serif' font-size="8.6" text-anchor="end" fill="#111" font-weight="normal" textLength="14.00" lengthAdjust="spacingAndGlyphs" stroke="#111" stroke-width="0.22">100</text>
<line x1="72.10" y1="341.80" x2="72.10" y2="345.60" stroke="#333" stroke-width="1.0"/>
<line x1="89.14" y1="341.80" x2="89.14" y2="343.60" stroke="#333" stroke-width="1.0"/>
<text x="72.10" y="355.20" font-family='"Liberation Sans", sans-serif' font-size="8.6" text-anchor="middle" fill="#111" font-weight="normal" textLength="4.80" lengthAdjust="spacingAndGlyphs" stroke="#111" stroke-width="0.22">0</text>
<line x1="106.18" y1="341.80" x2="106.18" y2="345.60" stroke="#333" stroke-width="1.0"/>
<line x1="123.22" y1="341.80" x2="123.22" y2="343.60" stroke="#333" stroke-width="1.0"/>
<text x="106.18" y="355.20" font-family='"Liberation Sans", sans-serif' font-size="8.6" text-anchor="middle" fill="#111" font-weight="normal" textLength="9.80" lengthAdjust="spacingAndGlyphs" stroke="#111" stroke-width="0.22">50</text>
<line x1="140.27" y1="341.80" x2="140.27" y2="345.60" stroke="#333" stroke-width="1.0"/>
<line x1="157.31" y1="341.80" x2="157.31" y2="343.60" stroke="#333" stroke-width="1.0"/>
<text x="140.27" y="355.20" font-family='"Liberation Sans", sans-serif' font-size="8.6" text-anchor="middle" fill="#111" font-weight="normal" textLength="14.60" lengthAdjust="spacingAndGlyphs" stroke="#111" stroke-width="0.22">100</text>
<line x1="174.35" y1="341.80" x2="174.35" y2="345.60" stroke="#333" stroke-width="1.0"/>
<line x1="191.39" y1="341.80" x2="191.39" y2="343.60" stroke="#333" stroke-width="1.0"/>
<text x="174.35" y="355.20" font-family='"Liberation Sans", sans-serif' font-size="8.6" text-anchor="middle" fill="#111" font-weight="normal" textLength="14.60" lengthAdjust="spacingAndGlyphs" stroke="#111" stroke-width="0.22">150</text>
<line x1="208.43" y1="341.80" x2="208.43" y2="345.60" stroke="#333" stroke-width="1.0"/>
<line x1="225.48" y1="341.80" x2="225.48" y2="343.60" stroke="#333" stroke-width="1.0"/>
<text x="208.43" y="355.20" font-family='"Liberation Sans", sans-serif' font-size="8.6" text-anchor="middle" fill="#111" font-weight="normal" textLength="14.60" lengthAdjust="spacingAndGlyphs" stroke="#111" stroke-width="0.22">200</text>
<line x1="242.52" y1="341.80" x2="242.52" y2="345.60" stroke="#333" stroke-width="1.0"/>
<line x1="259.56" y1="341.80" x2="259.56" y2="343.60" stroke="#333" stroke-width="1.0"/>
<text x="242.52" y="355.20" font-family='"Liberation Sans", sans-serif' font-size="8.6" text-anchor="middle" fill="#111" font-weight="normal" textLength="14.60" lengthAdjust="spacingAndGlyphs" stroke="#111" stroke-width="0.22">250</text>
<line x1="276.60" y1="341.80" x2="276.60" y2="345.60" stroke="#333" stroke-width="1.0"/>
<text x="276.60" y="355.20" font-family='"Liberation Sans", sans-serif' font-size="8.6" text-anchor="middle" fill="#111" font-weight="normal" textLength="14.60" lengthAdjust="spacingAndGlyphs" stroke="#111" stroke-width="0.22">300</text>
<text x="148.00" y="367.30" font-family='"Liberation Sans", sans-serif' font-size="9.6" text-anchor="start" fill="#111" font-weight="normal" textLength="56.00" lengthAdjust="spacingAndGlyphs" stroke="#111" stroke-width="0.22">Cycle Number</text>
<text transform="translate(30.00,298.80) rotate(-90)" x="0" y="0" font-family='"Liberation Sans", sans-serif' font-size="8.6" text-anchor="middle" fill="#222" font-weight="normal" textLength="34.20" lengthAdjust="spacingAndGlyphs" stroke="#222" stroke-width="0.22">Capacity</text>
<text transform="translate(40.40,297.50) rotate(-90)" x="0" y="0" font-family='"Liberation Sans", sans-serif' font-size="8.6" text-anchor="middle" fill="#222" font-weight="normal" textLength="54.30" lengthAdjust="spacingAndGlyphs" stroke="#222" stroke-width="0.22">Retention (%)</text>
<line x1="72.70" y1="262.78" x2="276.60" y2="298.15" stroke="#24248e" stroke-width="5.6" stroke-linecap="square"/>
<line x1="72.70" y1="264.68" x2="276.60" y2="300.05" stroke="#101060" stroke-width="1.4" stroke-opacity="0.55"/>
<line x1="74.10" y1="262.78" x2="276.60" y2="298.15" stroke="#a8a8e0" stroke-width="2.6" stroke-dasharray="1.3 2.45" stroke-opacity="0.9"/>
<rect x="274.30" y="295.85" width="4.6" height="4.6" fill="#fff" stroke="#24248e" stroke-width="1.5"/>
<line x1="72.70" y1="261.35" x2="276.60" y2="266.12" stroke="#d83030" stroke-width="5.6" stroke-linecap="square"/>
<line x1="72.70" y1="263.25" x2="276.60" y2="268.02" stroke="#902020" stroke-width="1.4" stroke-opacity="0.55"/>
<line x1="74.10" y1="261.35" x2="276.60" y2="266.12" stroke="#f4b0a8" stroke-width="2.6" stroke-dasharray="1.3 2.45" stroke-opacity="0.9"/>
<rect x="274.30" y="263.82" width="4.6" height="4.6" fill="#fff" stroke="#d83030" stroke-width="1.5"/>
<line x1="78.00" y1="276.80" x2="72.40" y2="267.80" stroke="#222" stroke-width="0.9"/>
<path d="M72.40,267.80 L75.45,269.67 L72.73,271.36 Z" fill="#222"/>
<line x1="274.00" y1="271.80" x2="276.40" y2="267.60" stroke="#222" stroke-width="0.9"/>
<path d="M276.40,267.60 L276.20,271.17 L273.42,269.58 Z" fill="#222"/>
<line x1="274.00" y1="306.60" x2="276.40" y2="301.30" stroke="#222" stroke-width="0.9"/>
<path d="M276.40,301.30 L276.54,304.88 L273.62,303.56 Z" fill="#222"/>
<text x="75.20" y="285.90" font-family='"Liberation Sans", sans-serif' font-size="7.6" text-anchor="start" fill="#a8403e" font-weight="normal" textLength="47.00" lengthAdjust="spacingAndGlyphs" stroke="#a8403e" stroke-width="0.22">SC: 161 mAh g<tspan font-size="3.4" dy="-3.2">-1</tspan></text>
<text x="75.20" y="294.60" font-family='"Liberation Sans", sans-serif' font-size="7.6" text-anchor="start" fill="#3c3c8c" font-weight="normal" textLength="47.00" lengthAdjust="spacingAndGlyphs" stroke="#3c3c8c" stroke-width="0.22">PC: 155 mAh g<tspan font-size="3.4" dy="-3.2">-1</tspan></text>
<text x="233.60" y="279.00" font-family='"Liberation Sans", sans-serif' font-size="7.6" text-anchor="start" fill="#a8403e" font-weight="normal" textLength="48.00" lengthAdjust="spacingAndGlyphs" stroke="#a8403e" stroke-width="0.22">SC: 151 mAh g<tspan font-size="3.4" dy="-3.2">-1</tspan></text>
<text x="236.60" y="312.40" font-family='"Liberation Sans", sans-serif' font-size="7.6" text-anchor="start" fill="#3c3c8c" font-weight="normal" textLength="45.00" lengthAdjust="spacingAndGlyphs" stroke="#3c3c8c" stroke-width="0.22">PC: 82 mAh g<tspan font-size="3.4" dy="-3.2">-1</tspan></text>
<rect x="76.6" y="316.3" width="3.6" height="3.6" fill="#fff" stroke="#c83a32" stroke-width="1.5"/>
<rect x="76.6" y="326.1" width="3.6" height="3.6" fill="#fff" stroke="#1c2080" stroke-width="1.5"/>
<text x="83.60" y="321.40" font-family='"Liberation Sans", sans-serif' font-size="8.3" text-anchor="start" fill="#b03c34" font-weight="normal" textLength="86.40" lengthAdjust="spacingAndGlyphs" stroke="#b03c34" stroke-width="0.4">SC: Single Crystal Particles</text>
<text x="83.60" y="330.50" font-family='"Liberation Sans", sans-serif' font-size="8.3" text-anchor="start" fill="#1e2878" font-weight="normal" textLength="86.60" lengthAdjust="spacingAndGlyphs" stroke="#1e2878" stroke-width="0.4">PC: Polycrystalline Particles</text>
<rect x="405.90" y="228.10" width="111.20" height="19.00" fill="#fff" stroke="#555" stroke-width="1.1" rx="1.2"/>
<text x="413.60" y="240.90" font-family='"Liberation Sans", sans-serif' font-size="10" text-anchor="start" fill="#111" font-weight="normal" textLength="95.40" lengthAdjust="spacingAndGlyphs" stroke="#111" stroke-width="0.1">Coulombic efficiency</text>
<text x="294.60" y="261.30" font-family='"Liberation Sans", sans-serif' font-size="14.2" text-anchor="start" fill="#111" font-weight="normal" textLength="15.80" lengthAdjust="spacingAndGlyphs" stroke="#111" stroke-width="0.22">(d)</text>
<rect x="354.20" y="260.20" width="219.20" height="75.80" fill="none" stroke="#666" stroke-width="1.2"/>
<line x1="351.40" y1="336.00" x2="354.20" y2="336.00" stroke="#333" stroke-width="1.0"/>
<line x1="352.60" y1="327.60" x2="354.20" y2="327.60" stroke="#333" stroke-width="1.0"/>
<text x="346.60" y="338.90" font-family='"Liberation Sans", sans-serif' font-size="8.4" text-anchor="end" fill="#111" font-weight="normal" textLength="9.00" lengthAdjust="spacingAndGlyphs" stroke="#111" stroke-width="0.15">60</text>
<line x1="351.40" y1="319.20" x2="354.20" y2="319.20" stroke="#333" stroke-width="1.0"/>
<line x1="352.60" y1="310.80" x2="354.20" y2="310.80" stroke="#333" stroke-width="1.0"/>
<text x="346.60" y="322.10" font-family='"Liberation Sans", sans-serif' font-size="8.4" text-anchor="end" fill="#111" font-weight="normal" textLength="9.00" lengthAdjust="spacingAndGlyphs" stroke="#111" stroke-width="0.15">70</text>
<line x1="351.40" y1="302.40" x2="354.20" y2="302.40" stroke="#333" stroke-width="1.0"/>
<line x1="352.60" y1="294.00" x2="354.20" y2="294.00" stroke="#333" stroke-width="1.0"/>
<text x="346.60" y="305.30" font-family='"Liberation Sans", sans-serif' font-size="8.4" text-anchor="end" fill="#111" font-weight="normal" textLength="9.00" lengthAdjust="spacingAndGlyphs" stroke="#111" stroke-width="0.15">80</text>
<line x1="351.40" y1="285.60" x2="354.20" y2="285.60" stroke="#333" stroke-width="1.0"/>
<line x1="352.60" y1="277.20" x2="354.20" y2="277.20" stroke="#333" stroke-width="1.0"/>
<text x="346.60" y="288.50" font-family='"Liberation Sans", sans-serif' font-size="8.4" text-anchor="end" fill="#111" font-weight="normal" textLength="9.00" lengthAdjust="spacingAndGlyphs" stroke="#111" stroke-width="0.15">90</text>
<line x1="351.40" y1="268.80" x2="354.20" y2="268.80" stroke="#333" stroke-width="1.0"/>
<text x="346.60" y="271.70" font-family='"Liberation Sans", sans-serif' font-size="8.4" text-anchor="end" fill="#111" font-weight="normal" textLength="12.60" lengthAdjust="spacingAndGlyphs" stroke="#111" stroke-width="0.15">100</text>
<line x1="354.20" y1="336.00" x2="354.20" y2="338.40" stroke="#333" stroke-width="1.0"/>
<line x1="374.95" y1="336.00" x2="374.95" y2="337.60" stroke="#333" stroke-width="1.0"/>
<text x="354.20" y="349.90" font-family='"Liberation Sans", sans-serif' font-size="8.4" text-anchor="middle" fill="#111" font-weight="normal" textLength="4.60" lengthAdjust="spacingAndGlyphs" stroke="#111" stroke-width="0.15">0</text>
<line x1="395.70" y1="336.00" x2="395.70" y2="338.40" stroke="#333" stroke-width="1.0"/>
<line x1="416.45" y1="336.00" x2="416.45" y2="337.60" stroke="#333" stroke-width="1.0"/>
<text x="395.70" y="349.90" font-family='"Liberation Sans", sans-serif' font-size="8.4" text-anchor="middle" fill="#111" font-weight="normal" textLength="8.60" lengthAdjust="spacingAndGlyphs" stroke="#111" stroke-width="0.15">10</text>
<line x1="437.20" y1="336.00" x2="437.20" y2="338.40" stroke="#333" stroke-width="1.0"/>
<line x1="457.95" y1="336.00" x2="457.95" y2="337.60" stroke="#333" stroke-width="1.0"/>
<text x="437.20" y="349.90" font-family='"Liberation Sans", sans-serif' font-size="8.4" text-anchor="middle" fill="#111" font-weight="normal" textLength="8.60" lengthAdjust="spacingAndGlyphs" stroke="#111" stroke-width="0.15">20</text>
<line x1="478.70" y1="336.00" x2="478.70" y2="338.40" stroke="#333" stroke-width="1.0"/>
<line x1="499.45" y1="336.00" x2="499.45" y2="337.60" stroke="#333" stroke-width="1.0"/>
<text x="478.70" y="349.90" font-family='"Liberation Sans", sans-serif' font-size="8.4" text-anchor="middle" fill="#111" font-weight="normal" textLength="8.60" lengthAdjust="spacingAndGlyphs" stroke="#111" stroke-width="0.15">30</text>
<line x1="520.20" y1="336.00" x2="520.20" y2="338.40" stroke="#333" stroke-width="1.0"/>
<line x1="540.95" y1="336.00" x2="540.95" y2="337.60" stroke="#333" stroke-width="1.0"/>
<text x="520.20" y="349.90" font-family='"Liberation Sans", sans-serif' font-size="8.4" text-anchor="middle" fill="#111" font-weight="normal" textLength="8.60" lengthAdjust="spacingAndGlyphs" stroke="#111" stroke-width="0.15">40</text>
<line x1="561.70" y1="336.00" x2="561.70" y2="338.40" stroke="#333" stroke-width="1.0"/>
<text x="561.70" y="349.90" font-family='"Liberation Sans", sans-serif' font-size="8.4" text-anchor="middle" fill="#111" font-weight="normal" textLength="8.60" lengthAdjust="spacingAndGlyphs" stroke="#111" stroke-width="0.15">50</text>
<text x="440.40" y="362.60" font-family='"Liberation Sans", sans-serif' font-size="8.6" text-anchor="start" fill="#111" font-weight="normal" textLength="47.20" lengthAdjust="spacingAndGlyphs" stroke="#111" stroke-width="0.12">Cycle number</text>
<text transform="translate(329.30,305.40) rotate(-90)" x="0" y="0" font-family='"Liberation Sans", sans-serif' font-size="8.6" text-anchor="middle" fill="#111" font-weight="normal" textLength="86.00" lengthAdjust="spacingAndGlyphs" stroke="#111" stroke-width="0.12">Coulombic efficiency (%)</text>
<circle cx="358.35" cy="317.69" r="1.85" fill="#ff1a1a"/>
<circle cx="362.50" cy="276.02" r="1.85" fill="#ff1a1a"/>
<circle cx="366.65" cy="283.42" r="1.85" fill="#ff1a1a"/>
<circle cx="370.80" cy="272.16" r="1.85" fill="#ff1a1a"/>
<circle cx="374.95" cy="271.99" r="1.85" fill="#ff1a1a"/>
<circle cx="379.10" cy="271.66" r="1.85" fill="#ff1a1a"/>
<circle cx="383.25" cy="272.16" r="1.85" fill="#ff1a1a"/>
<circle cx="387.40" cy="272.50" r="1.85" fill="#ff1a1a"/>
<circle cx="391.55" cy="272.50" r="1.85" fill="#ff1a1a"/>
<circle cx="395.70" cy="272.50" r="1.85" fill="#ff1a1a"/>
<circle cx="399.85" cy="272.16" r="1.85" fill="#ff1a1a"/>
<circle cx="404.00" cy="271.49" r="1.85" fill="#ff1a1a"/>
<circle cx="408.15" cy="271.32" r="1.85" fill="#ff1a1a"/>
<circle cx="412.30" cy="270.98" r="1.85" fill="#ff1a1a"/>
<circle cx="416.45" cy="271.32" r="1.85" fill="#ff1a1a"/>
<circle cx="420.60" cy="271.66" r="1.85" fill="#ff1a1a"/>
<circle cx="424.75" cy="272.16" r="1.85" fill="#ff1a1a"/>
<circle cx="428.90" cy="271.66" r="1.85" fill="#ff1a1a"/>
<circle cx="433.05" cy="271.82" r="1.85" fill="#ff1a1a"/>
<circle cx="437.20" cy="272.16" r="1.85" fill="#ff1a1a"/>
<circle cx="441.35" cy="271.66" r="1.85" fill="#ff1a1a"/>
<circle cx="445.50" cy="271.82" r="1.85" fill="#ff1a1a"/>
<circle cx="449.65" cy="271.82" r="1.85" fill="#ff1a1a"/>
<circle cx="453.80" cy="271.82" r="1.85" fill="#ff1a1a"/>
<circle cx="457.95" cy="272.50" r="1.85" fill="#ff1a1a"/>
<circle cx="462.10" cy="271.66" r="1.85" fill="#ff1a1a"/>
<circle cx="466.25" cy="272.16" r="1.85" fill="#ff1a1a"/>
<circle cx="470.40" cy="272.16" r="1.85" fill="#ff1a1a"/>
<circle cx="474.55" cy="271.66" r="1.85" fill="#ff1a1a"/>
<circle cx="478.70" cy="272.50" r="1.85" fill="#ff1a1a"/>
<circle cx="482.85" cy="271.82" r="1.85" fill="#ff1a1a"/>
<circle cx="487.00" cy="271.82" r="1.85" fill="#ff1a1a"/>
<circle cx="491.15" cy="271.66" r="1.85" fill="#ff1a1a"/>
<circle cx="495.30" cy="271.66" r="1.85" fill="#ff1a1a"/>
<circle cx="499.45" cy="271.66" r="1.85" fill="#ff1a1a"/>
<circle cx="503.60" cy="271.82" r="1.85" fill="#ff1a1a"/>
<circle cx="507.75" cy="271.82" r="1.85" fill="#ff1a1a"/>
<circle cx="511.90" cy="271.82" r="1.85" fill="#ff1a1a"/>
<circle cx="516.05" cy="271.66" r="1.85" fill="#ff1a1a"/>
<circle cx="520.20" cy="272.16" r="1.85" fill="#ff1a1a"/>
<circle cx="524.35" cy="272.16" r="1.85" fill="#ff1a1a"/>
<circle cx="528.50" cy="271.82" r="1.85" fill="#ff1a1a"/>
<circle cx="532.65" cy="272.16" r="1.85" fill="#ff1a1a"/>
<circle cx="536.80" cy="272.50" r="1.85" fill="#ff1a1a"/>
<circle cx="540.95" cy="272.16" r="1.85" fill="#ff1a1a"/>
<circle cx="545.10" cy="272.50" r="1.85" fill="#ff1a1a"/>
<circle cx="549.25" cy="271.66" r="1.85" fill="#ff1a1a"/>
<circle cx="553.40" cy="271.66" r="1.85" fill="#ff1a1a"/>
<circle cx="557.55" cy="271.66" r="1.85" fill="#ff1a1a"/>
<circle cx="561.70" cy="271.66" r="1.85" fill="#ff1a1a"/>
<circle cx="565.85" cy="271.66" r="1.85" fill="#ff1a1a"/>
<circle cx="570.00" cy="271.82" r="1.85" fill="#ff1a1a"/>
<circle cx="358.35" cy="326.76" r="1.85" fill="#000"/>
<circle cx="362.50" cy="278.88" r="1.85" fill="#000"/>
<circle cx="366.65" cy="284.59" r="1.85" fill="#000"/>
<circle cx="370.80" cy="277.20" r="1.85" fill="#000"/>
<circle cx="374.95" cy="278.38" r="1.85" fill="#000"/>
<circle cx="379.10" cy="281.74" r="1.85" fill="#000"/>
<circle cx="383.25" cy="288.96" r="1.85" fill="#000"/>
<circle cx="387.40" cy="299.38" r="1.85" fill="#000"/>
<circle cx="391.55" cy="293.50" r="1.85" fill="#000"/>
<circle cx="395.70" cy="292.32" r="1.85" fill="#000"/>
<circle cx="399.85" cy="289.80" r="1.85" fill="#000"/>
<circle cx="404.00" cy="286.61" r="1.85" fill="#000"/>
<circle cx="408.15" cy="284.26" r="1.85" fill="#000"/>
<circle cx="412.30" cy="282.91" r="1.85" fill="#000"/>
<circle cx="416.45" cy="280.39" r="1.85" fill="#000"/>
<circle cx="420.60" cy="279.22" r="1.85" fill="#000"/>
<circle cx="424.75" cy="276.53" r="1.85" fill="#000"/>
<circle cx="428.90" cy="278.54" r="1.85" fill="#000"/>
<circle cx="433.05" cy="274.34" r="1.85" fill="#000"/>
<circle cx="437.20" cy="275.35" r="1.85" fill="#000"/>
<circle cx="441.35" cy="276.19" r="1.85" fill="#000"/>
<circle cx="445.50" cy="276.02" r="1.85" fill="#000"/>
<circle cx="449.65" cy="274.68" r="1.85" fill="#000"/>
<circle cx="453.80" cy="274.51" r="1.85" fill="#000"/>
<circle cx="457.95" cy="275.52" r="1.85" fill="#000"/>
<circle cx="462.10" cy="274.18" r="1.85" fill="#000"/>
<circle cx="466.25" cy="274.85" r="1.85" fill="#000"/>
<circle cx="470.40" cy="275.69" r="1.85" fill="#000"/>
<circle cx="474.55" cy="274.34" r="1.85" fill="#000"/>
<circle cx="478.70" cy="275.18" r="1.85" fill="#000"/>
<circle cx="482.85" cy="276.53" r="1.85" fill="#000"/>
<circle cx="487.00" cy="274.51" r="1.85" fill="#000"/>
<circle cx="491.15" cy="275.02" r="1.85" fill="#000"/>
<circle cx="495.30" cy="274.18" r="1.85" fill="#000"/>
<circle cx="499.45" cy="275.35" r="1.85" fill="#000"/>
<circle cx="503.60" cy="274.51" r="1.85" fill="#000"/>
<circle cx="507.75" cy="274.01" r="1.85" fill="#000"/>
<circle cx="511.90" cy="275.02" r="1.85" fill="#000"/>
<circle cx="516.05" cy="274.51" r="1.85" fill="#000"/>
<circle cx="520.20" cy="275.18" r="1.85" fill="#000"/>
<circle cx="524.35" cy="274.18" r="1.85" fill="#000"/>
<circle cx="528.50" cy="274.68" r="1.85" fill="#000"/>
<circle cx="532.65" cy="275.35" r="1.85" fill="#000"/>
<circle cx="536.80" cy="274.34" r="1.85" fill="#000"/>
<circle cx="540.95" cy="275.02" r="1.85" fill="#000"/>
<circle cx="545.10" cy="274.51" r="1.85" fill="#000"/>
<circle cx="549.25" cy="274.01" r="1.85" fill="#000"/>
<circle cx="553.40" cy="275.18" r="1.85" fill="#000"/>
<circle cx="557.55" cy="274.68" r="1.85" fill="#000"/>
<circle cx="561.70" cy="274.18" r="1.85" fill="#000"/>
<circle cx="565.85" cy="275.02" r="1.85" fill="#000"/>
<circle cx="570.00" cy="274.34" r="1.85" fill="#000"/>
<circle cx="487.5" cy="301.2" r="1.7" fill="#ff1a1a"/>
<circle cx="487.5" cy="316.4" r="1.7" fill="#000"/>
<text x="491.80" y="304.60" font-family='"Liberation Sans", sans-serif' font-size="8.4" text-anchor="start" fill="#111" font-weight="normal" textLength="23.00" lengthAdjust="spacingAndGlyphs" stroke="#111" stroke-width="0.22">Sol-gel</text>
<text x="491.80" y="319.50" font-family='"Liberation Sans", sans-serif' font-size="8.4" text-anchor="start" fill="#111" font-weight="normal" textLength="56.40" lengthAdjust="spacingAndGlyphs" stroke="#111" stroke-width="0.22">Co-precipitation</text>
</svg></body></html>
